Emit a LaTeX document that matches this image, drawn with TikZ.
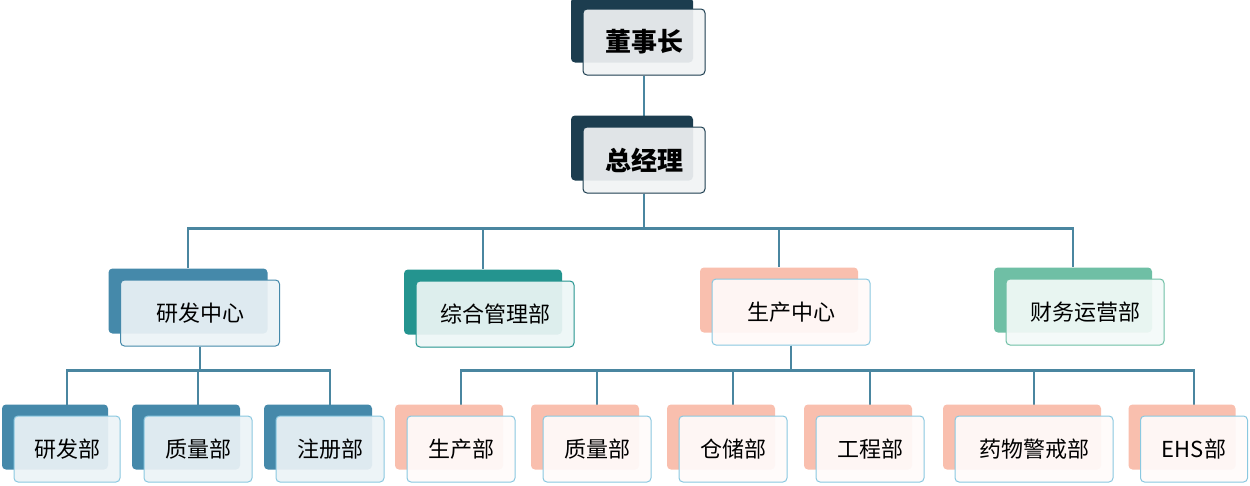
\documentclass[tikz,border=0pt]{standalone}
\usepackage{fontspec}
\setmainfont{Noto Sans CJK SC}
\usetikzlibrary{positioning,backgrounds,calc}
\definecolor{navy}{HTML}{1C3D4F}
\definecolor{steel}{HTML}{4589AA}
\definecolor{teal}{HTML}{24948F}
\definecolor{salmon}{HTML}{F9BFAE}
\definecolor{mint}{HTML}{6FBFA5}
\definecolor{linec}{HTML}{4A86A0}
\definecolor{skyb}{HTML}{8AC8E0}

% back box, front box drawn over it
\newcommand{\orgnode}[7]{%
  \node[back, fill=#5, minimum width=#4] (#1b) at ($(#2,#3)+(-12,-12)$) {};
  \node[front, draw=#6, fill=#7, minimum width=#4] (#1) at (#2,#3) {};
}

\begin{document}
\begin{tikzpicture}[x=1pt, y=-1pt,
    back/.style  = {rectangle, rounded corners=4pt, minimum height=65pt, inner sep=0pt},
    front/.style = {rectangle, rounded corners=4pt, line width=1pt, fill opacity=0.92, minimum height=66pt, inner sep=0pt},
    label/.style = {font=\fontsize{22}{24}\selectfont, text=black},
    top/.style   = {font=\bfseries\fontsize{26}{28}\selectfont, text=black},
    link/.style  = {draw=linec, line width=2.5pt}]
  \useasboundingbox (0,0) rectangle (1250,485);

  % top levels
  \orgnode{chair}{644}{42}{122}{navy}{navy}{navy!6}
  \node[top] at (chair) {董事长};
  \orgnode{gm}{644}{160}{122}{navy}{navy}{navy!6}
  \node[top] at (gm) {总经理};

  % centres
  \orgnode{rd}{200}{313}{159}{steel}{steel}{steel!10}
  \node[label] at (rd) {研发中心};
  \orgnode{adm}{495}{314}{158}{teal}{teal}{teal!8}
  \node[label] at (adm) {综合管理部};
  \orgnode{prod}{791}{312}{158}{salmon}{skyb}{salmon!8}
  \node[label] at (prod) {生产中心};
  \orgnode{fin}{1085}{312}{158}{mint}{mint}{mint!8}
  \node[label] at (fin) {财务运营部};

  % departments
  \foreach \name/\cx/\w/\txt in {rda/67/106/研发部, rdq/198/108/质量部, rdr/330/108/注册部}{
    \orgnode{\name}{\cx}{449}{\w}{steel}{skyb}{steel!10}
    \node[label] at (\name) {\txt};
  }
  \foreach \name/\cx/\w/\txt in {pp/461/108/生产部, pq/597/108/质量部, ps/733/108/仓储部,
      pe/870/108/工程部, pv/1034/158/药物警戒部, ph/1194/107/EHS部}{
    \orgnode{\name}{\cx}{449}{\w}{salmon}{skyb}{salmon!6}
    \node[label] at (\name) {\txt};
  }

  \begin{scope}[on background layer]
    \draw[link] (chair.south) -- (gm.north);
    \foreach \c in {rdb, admb, prodb, finb}
      \draw[link] (gm.south) -- ++(0,35) -| (\c.north);
    \foreach \c in {rda, rdq, rdr}
      \draw[link] (rd.south) -- ++(0,24) -| ([yshift=-12pt]\c.north);
    \foreach \c in {pp, pq, ps, pe, pv, ph}
      \draw[link] (prod.south) -- ++(0,25) -| ([yshift=-12pt]\c.north);
  \end{scope}
\end{tikzpicture}
\end{document}
